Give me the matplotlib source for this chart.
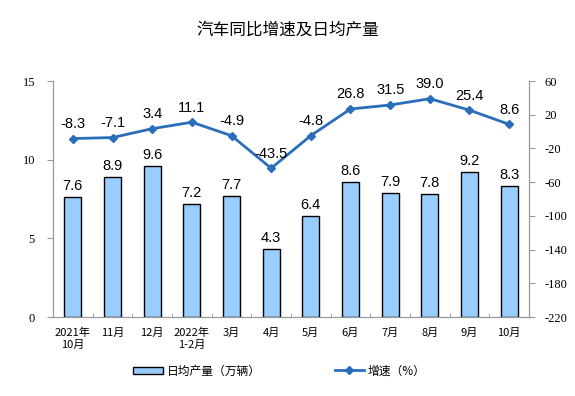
import matplotlib
matplotlib.use("Agg")
import matplotlib.pyplot as plt
import numpy as np

categories = ["2021年\n10月", "11月", "12月", "2022年\n1-2月", "3月", "4月", "5月", "6月", "7月", "8月", "9月", "10月"]
daily_output = [7.6, 8.9, 9.6, 7.2, 7.7, 4.3, 6.4, 8.6, 7.9, 7.8, 9.2, 8.3]
growth = [-8.3, -7.1, 3.4, 11.1, -4.9, -43.5, -4.8, 26.8, 31.5, 39.0, 25.4, 8.6]
left_ticks = [0, 5, 10, 15]
right_ticks = [-220, -180, -140, -100, -60, -20, 20, 60]

cjk = ["Noto Sans CJK SC", "DejaVu Sans"]
serif = ["Liberation Serif", "DejaVu Serif"]
sans = ["Liberation Sans", "DejaVu Sans"]

fig = plt.figure(figsize=(5.75, 3.96), dpi=100)
ax = fig.add_axes([53/575, 1-317/396, 476/575, 236/396])
ax2 = ax.twinx()

x = np.arange(len(categories))
bars = ax.bar(x, daily_output, width=0.43, color="#99CCFF", edgecolor="black", linewidth=1.0,
              label="日均产量（万辆）", zorder=2)
for xi, v in zip(x, daily_output):
    ax.text(xi, v + 0.25, f"{v:.1f}", ha="center", va="bottom", fontsize=10.5, family=sans)

line, = ax2.plot(x, growth, color="#2A6EBB", linewidth=2, marker="D", markersize=4,
                 label="增速（%）", zorder=3)
for xi, v in zip(x, growth):
    ax2.text(xi, v + 9, f"{v:.1f}", ha="center", va="bottom", fontsize=10.5, family=sans)

ax.set_xlim(-0.5, len(categories) - 0.5)
ax.set_ylim(0, 15)
ax.set_yticks(left_ticks)
ax.set_yticklabels([str(t) for t in left_ticks], family=serif, fontsize=9)
ax2.set_ylim(-220, 60)
ax2.set_yticks(right_ticks)
ax2.set_yticklabels([str(t) for t in right_ticks], family=serif, fontsize=9)

ax.set_xticks(x)
ax.set_xticklabels(categories, family=cjk, fontsize=8, linespacing=1.2)
ax.set_xticks(np.arange(-0.5, len(categories), 1), minor=True)
ax.tick_params(axis="x", which="major", length=0, pad=8)
ax.tick_params(axis="x", which="minor", length=3, direction="in", color="#999999")
ax.tick_params(axis="y", length=4, color="#999999", pad=9)
ax2.tick_params(axis="y", length=4, color="#999999", pad=7)

for a in (ax, ax2):
    a.spines["top"].set_visible(False)
    for s in ("left", "right", "bottom"):
        a.spines[s].set_color("#999999")
        a.spines[s].set_linewidth(0.8)

fig.text(0.5, 1-30/396, "汽车同比增速及日均产量", ha="center", va="center", fontsize=12, family=cjk)

leg1 = fig.legend(handles=[bars], loc="center", bbox_to_anchor=(197/575, 1-371/396), frameon=False,
                  prop={"family": cjk, "size": 8.5}, handlelength=2.5, handleheight=0.5, handletextpad=0.3)
leg2 = fig.legend(handles=[line], loc="center", bbox_to_anchor=(380/575, 1-371/396), frameon=False,
                  prop={"family": cjk, "size": 8.5}, handlelength=2.5, handletextpad=0.3)

fig.savefig("out.png", dpi=100)
